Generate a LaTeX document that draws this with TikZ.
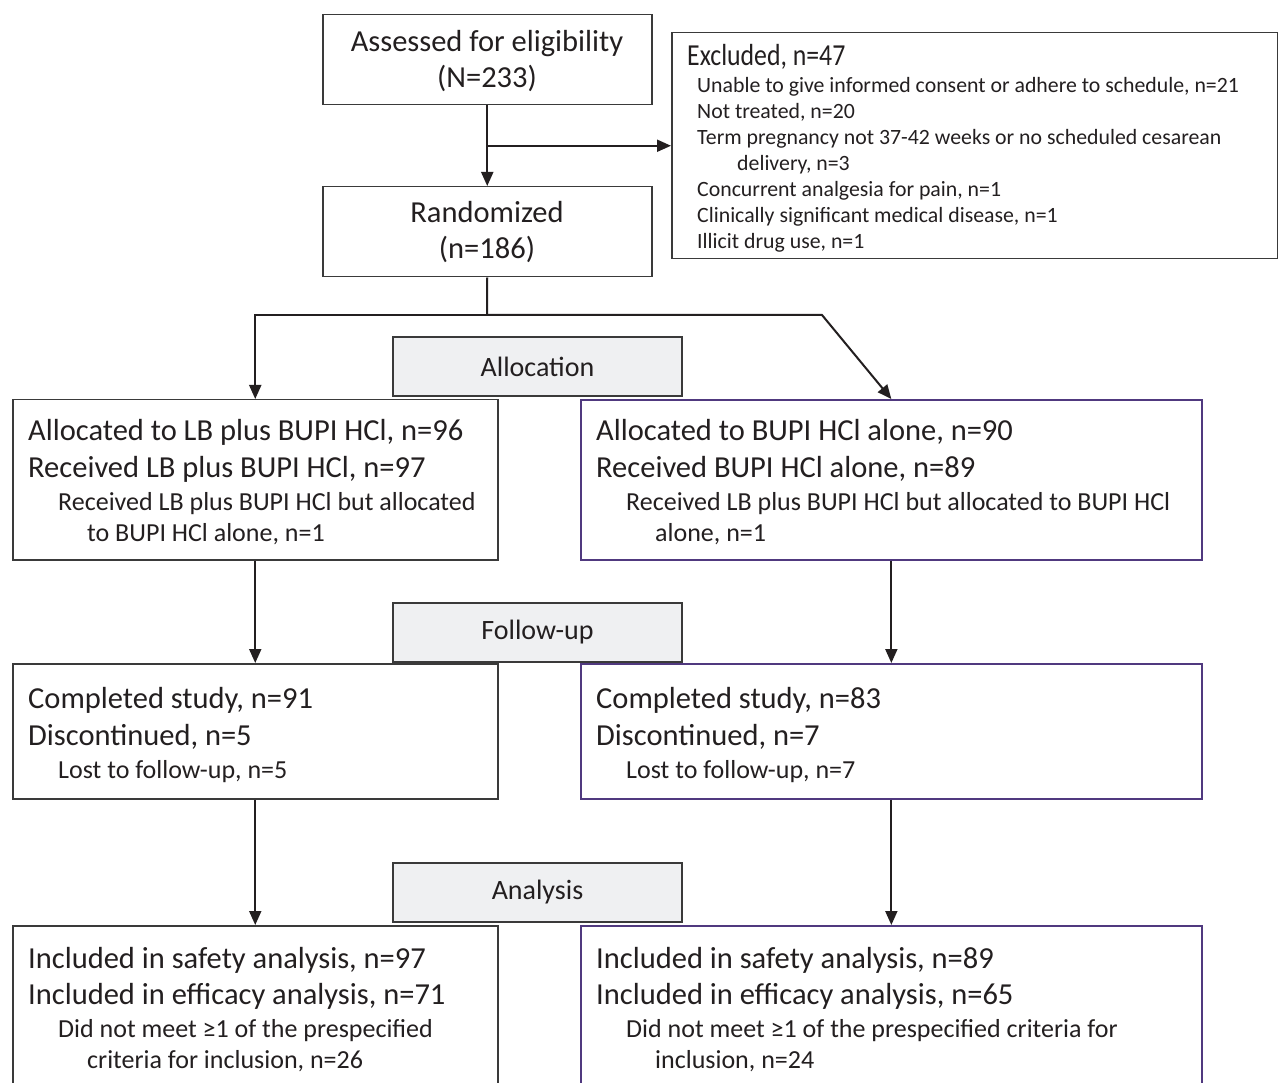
\documentclass[tikz,border=0pt]{standalone}
\usepackage{graphicx}
\usepackage{fontspec}
\setmainfont{Carlito}
\usetikzlibrary{arrows.meta,calc}
\definecolor{ink}{HTML}{231F20}
\definecolor{edge}{HTML}{3A3A3A}
\definecolor{purp}{HTML}{50397F}
\definecolor{lblfill}{HTML}{EFF0F2}
\tikzset{
  box/.style={draw=edge, line width=1.5pt, anchor=north west, inner sep=0pt},
  pbox/.style={box, draw=purp, line width=1.7pt},
  lbl/.style={draw=edge, fill=lblfill, line width=1.4pt, inner sep=0pt, minimum width=289pt, minimum height=59pt,
    font=\fontsize{28}{32}\selectfont, text=ink},
  big/.style={anchor=base west, inner sep=0pt, text=ink, font=\fontsize{30.5}{36}\selectfont},
  bigc/.style={anchor=base, inner sep=0pt, text=ink, font=\fontsize{30.5}{36}\selectfont},
  mid/.style={anchor=base west, inner sep=0pt, text=ink, font=\fontsize{26}{30}\selectfont},
  small/.style={anchor=base west, inner sep=0pt, text=ink, font=\fontsize{21.8}{25}\selectfont},
  link/.style={draw=ink, line width=2pt},
  arr/.style={link, -{Triangle[length=14pt,width=12pt]}},
}
\begin{document}
\begin{tikzpicture}[x=1pt,y=-1pt]
\useasboundingbox (0,0) rectangle (1278,1083);
\clip (0,0) rectangle (1278,1083);
\fill[white] (0,0) rectangle (1278,1083);
% top boxes
\node[box, minimum width=329pt, minimum height=90pt] (assess) at (322,14) {};
\node[bigc] (assessA) at (487,52) {Assessed for eligibility};
\node[bigc] (assessB) at (487,88) {(N=233)};
\node[box, minimum width=606pt, minimum height=226pt] (excl) at (671,32) {};
\node[big] (exA) at (687,66) {\scalebox{0.845}[1]{Excluded, n=47}};
\node[small] (exB) at (697,93) {Unable to give informed consent or adhere to schedule, n=21};
\node[small] (exC) at (697,119) {Not treated, n=20};
\node[small] (exD) at (697,145) {Term pregnancy not 37-42 weeks or no scheduled cesarean};
\node[small] (exE) at (737,171) {delivery, n=3};
\node[small] (exF) at (697,197) {Concurrent analgesia for pain, n=1};
\node[small] (exG) at (697,223) {Clinically significant medical disease, n=1};
\node[small] (exH) at (697,249) {Illicit drug use, n=1};
\node[box, minimum width=329pt, minimum height=90pt] (rand) at (322,186) {};
\node[bigc] (randA) at (487,223) {Randomized};
\node[bigc] (randB) at (487,259) {(n=186)};
% labels
\node[lbl] (allocL) at (537.5,366.5) {Allocation};
\node[lbl] (followL) at (537.5,632.5) {Follow-up};
\node[lbl] (analL) at (537.5,892.5) {Analysis};
% allocation boxes
\node[box, minimum width=485pt, minimum height=160pt] (alb) at (12,399) {};
\node[big] (albA) at (28,441) {Allocated to LB plus BUPI HCl, n=96};
\node[big] (albB) at (28,477) {Received LB plus BUPI HCl, n=97};
\node[mid] (albC) at (58,510) {Received LB plus BUPI HCl but allocated};
\node[mid] (albD) at (87,541) {to BUPI HCl alone, n=1};
\node[pbox, minimum width=621pt, minimum height=160pt] (abu) at (580,399) {};
\node[big] (abuA) at (596,441) {Allocated to BUPI HCl alone, n=90};
\node[big] (abuB) at (596,477) {Received BUPI HCl alone, n=89};
\node[mid] (abuC) at (626,510) {Received LB plus BUPI HCl but allocated to BUPI HCl};
\node[mid] (abuD) at (655,541) {alone, n=1};
% follow-up boxes
\node[box, minimum width=485pt, minimum height=135pt] (flb) at (12,663) {};
\node[big] (flbA) at (28,708) {Completed study, n=91};
\node[big] (flbB) at (28,745) {Discontinued, n=5};
\node[mid] (flbC) at (58,778) {Lost to follow-up, n=5};
\node[pbox, minimum width=621pt, minimum height=135pt] (fbu) at (580,663) {};
\node[big] (fbuA) at (596,708) {Completed study, n=83};
\node[big] (fbuB) at (596,745) {Discontinued, n=7};
\node[mid] (fbuC) at (626,778) {Lost to follow-up, n=7};
% analysis boxes
\node[box, minimum width=485pt, minimum height=200pt] (nlb) at (12,925) {};
\node[big] (nlbA) at (28,968) {Included in safety analysis, n=97};
\node[big] (nlbB) at (28,1004) {Included in efficacy analysis, n=71};
\node[mid] (nlbC) at (58,1037) {Did not meet ≥1 of the prespecified};
\node[mid] (nlbD) at (87,1068) {criteria for inclusion, n=26};
\node[pbox, minimum width=621pt, minimum height=200pt] (nbu) at (580,925) {};
\node[big] (nbuA) at (596,968) {Included in safety analysis, n=89};
\node[big] (nbuB) at (596,1004) {Included in efficacy analysis, n=65};
\node[mid] (nbuC) at (626,1037) {Did not meet ≥1 of the prespecified criteria for};
\node[mid] (nbuD) at (655,1068) {inclusion, n=24};
% connectors
\draw[arr] (assess.south) -- (rand.north);
\coordinate (br) at ($(assess.south)!0.5!(rand.north)$);
\draw[arr] (br) -- (br -| excl.west);
\coordinate (split) at (487,315);
\coordinate (kl) at (alb.north |- split);
\coordinate (kr) at (822,315);
\draw[link] (rand.south) -- (split);
\draw[arr] (split) -- (kl) -- (alb.north);
\draw[arr] (split) -- (kr) -- (abu.north);
\draw[arr] (alb.south) -- (flb.north);
\draw[arr] (abu.south) -- (fbu.north);
\draw[arr] (flb.south) -- (nlb.north);
\draw[arr] (fbu.south) -- (nbu.north);
\end{tikzpicture}
\end{document}
